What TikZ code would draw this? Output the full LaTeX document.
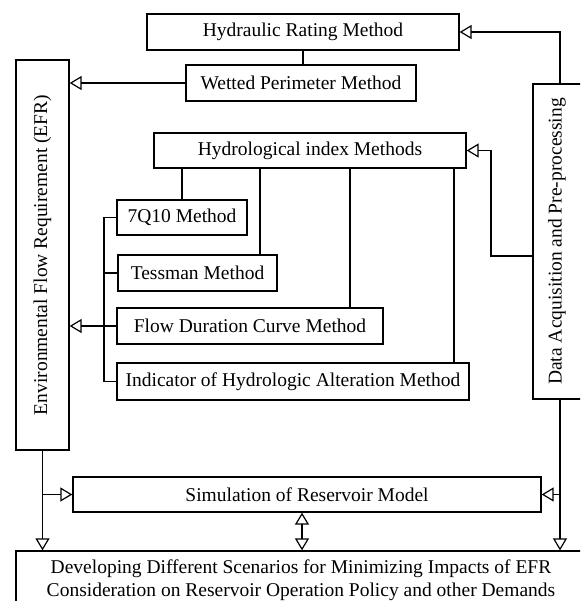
\documentclass[tikz,border=0pt]{standalone}
\usepackage{fontspec}
\setmainfont{Liberation Serif}
\usetikzlibrary{arrows.meta}
\usetikzlibrary{calc}

\tikzset{
  box/.style={draw, line width=1.3pt, inner sep=0pt, align=center,
    font=\fontsize{19.5}{23}\selectfont},
  tri/.style={-{Triangle[open, length=12pt, width=14pt, line width=1.2pt]}},
  tritwo/.style={{Triangle[open, length=12pt, width=14pt, line width=1.2pt]}-{Triangle[open, length=12pt, width=14pt, line width=1.2pt]}}
}

\begin{document}
\begin{tikzpicture}[x=1pt, y=-1pt, line width=1.3pt]
\useasboundingbox (0,0) rectangle (580,601);
\clip (0,0) rectangle (580,601);
% method boxes
\node[box, minimum width=312, minimum height=36] (hyd) at (303,32) {Hydraulic Rating Method};
\node[box, minimum width=230, minimum height=36] (wet) at (301,83) {Wetted Perimeter Method};
\node[box, minimum width=312, minimum height=35] (hin) at (310,150.5) {Hydrological index Methods};
\node[box, minimum width=130, minimum height=35] (q) at (182,217.5) {7Q10 Method};
\node[box, minimum width=159, minimum height=36] (tes) at (197.5,273) {Tessman Method};
\node[box, minimum width=266, minimum height=36] (fdc) at (250,326) {Flow Duration Curve Method};
\node[box, minimum width=352, minimum height=37] (iha) at (293,381.5) {Indicator of Hydrologic Alteration Method};
% side boxes
\node[box, minimum width=53, minimum height=390] (efr) at (42.5,255) {};
\node[rotate=90, font=\fontsize{19.5}{23}\selectfont] at (efr) {Environmental Flow Requirement (EFR)};
\node[box, minimum width=54, minimum height=315] (data) at (560,241.5) {};
\node[rotate=90, font=\fontsize{19.5}{23}\selectfont] at (557,241.5) {Data Acquisition and Pre-processing};
% bottom boxes
\node[box, minimum width=468, minimum height=35] (sim) at (307,494.5) {Simulation of Reservoir Model};
\node[box, minimum width=570, minimum height=58] (dev) at (301,580) {Developing Different Scenarios for Minimizing Impacts of EFR\\Consideration on Reservoir Operation Policy and other Demands};

% connectors
\draw (hyd.south) -- (hyd.south |- wet.north);
\draw[tri] (wet.west) -- (wet.west -| efr.east);
\draw[tri] (data.north) |- (hyd.east);
\coordinate (hj) at (491,256);
\draw[tri] (data.west |- hj) -- (hj) |- (hin.east);
\foreach \x/\n in {182/q, 260/tes, 350/fdc, 454/iha} {
 \coordinate (d\n) at (\x,0);
 \draw (hin.south -| d\n) -- (\n.north -| d\n);
}
\coordinate (br) at (104,0);
\draw (q.west) -| (br |- iha.west) -- (iha.west);
\draw (tes.west) -- (tes.west -| br);
\draw[tri] (fdc.west) -- (fdc.west -| efr.east);
\draw[tri] (efr.south) -- (efr.south |- dev.north);
\draw[tri] (efr.south |- sim.west) -- (sim.west);
\draw[tri] (data.south) -- (data.south |- dev.north);
\draw[tri] (data.south |- sim.east) -- (sim.east);
\coordinate (dd) at (302,0);
\draw[tritwo] (sim.south -| dd) -- (dev.north -| dd);
\end{tikzpicture}
\end{document}
